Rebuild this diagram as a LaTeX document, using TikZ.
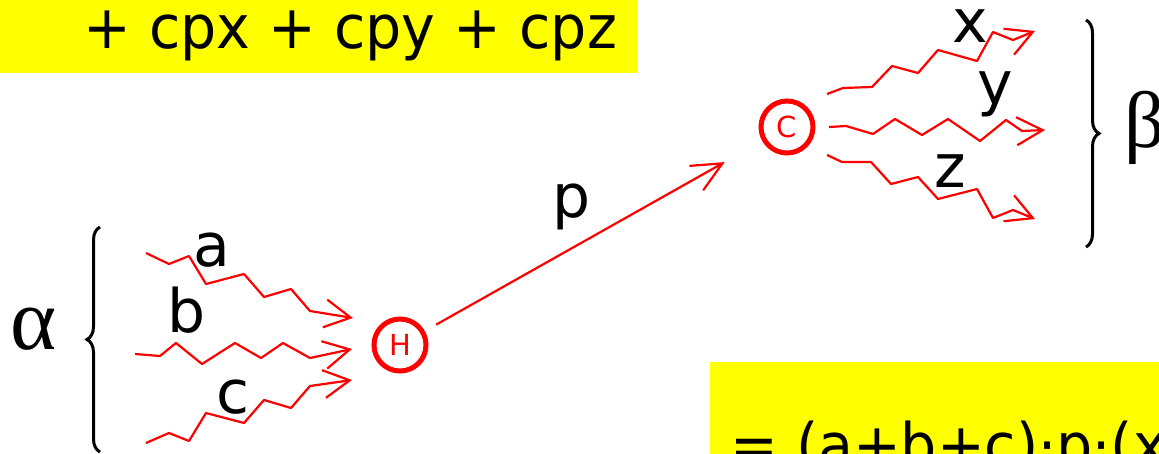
\documentclass[tikz,border=0pt]{standalone}
\usepackage{fontspec}
\setmainfont{DejaVu Sans}
\newfontfamily\greekfont{Liberation Serif}
\newfontfamily\sumfont[FakeStretch=0.95]{DejaVu Sans}
\usepackage{tikz}
\usetikzlibrary{arrows.meta, decorations.pathreplacing}
\definecolor{hilite}{RGB}{255,255,0}
\definecolor{wavered}{RGB}{255,0,0}

\tikzset{
  big/.style={font=\fontsize{60}{60}\selectfont, inner sep=0pt, anchor=base},
  sum/.style={font=\sumfont\fontsize{60}{60}\selectfont, inner sep=0pt, anchor=base west},
  atom/.style={circle, draw=wavered, line width=5pt, minimum size=52pt, inner sep=0pt,
    text=wavered, font=\fontsize{29}{29}\selectfont},
  wave/.style={wavered, line width=2.2pt, line join=round,
    -{Straight Barb[length=26pt,width=28pt]}},
  parrow/.style={wavered, line width=2.2pt, -{Straight Barb[length=30pt,width=28pt]}},
  curly/.style={decorate, decoration={brace, amplitude=13pt}, line width=3pt},
  greek/.style={inner sep=0pt, anchor=base west, font=\greekfont\fontsize{80}{80}\selectfont}
}

\begin{document}
\begin{tikzpicture}[x=1pt, y=-1pt]
  \useasboundingbox (0,0) rectangle (1159,454);
  \clip (0,0) rectangle (1159,454);

  % yellow boxes with the sums
  \fill[hilite] (0,0) rectangle (637,73);
  \fill[hilite] (710,362) rectangle (1159,470);
  \node[sum] (sumtop) at (83,49) {+ cpx + cpy + cpz};
  \node[sum] (sumbot) at (730,466) {= (a+b+c)·p·(x};

  % the two centres
  \node[atom] (H) at (400,345) {H};
  \node[atom] (C) at (787,127) {C};

  \draw[parrow, shorten <=13pt, shorten >=43pt] (H) -- (C);
  \node[big] (p) at (572,218) {p};

  % incoming
  \draw[wave] (146,253) -- (169,264) -- (189,256) -- (206,284) -- (244,274)
    -- (264,297) -- (291,289) -- (310,311) -- (353,318);
  \draw[wave] (135,354) -- (160,356) -- (176,343) -- (202,364) -- (235,343)
    -- (261,358) -- (283,343) -- (310,358) -- (352,349);
  \draw[wave] (146,443) -- (169,433) -- (189,441) -- (206,413) -- (244,423)
    -- (264,400) -- (291,408) -- (310,386) -- (352,380);

  % outgoing
  \draw[wave] (827,94) -- (843,88) -- (872,87) -- (892,66) -- (918,73)
    -- (938,50) -- (977,61) -- (993,32) -- (1013,40) -- (1035,31);
  \draw[wave] (829,127) -- (846,126) -- (873,134) -- (895,119) -- (922,135)
    -- (948,119) -- (980,141) -- (1006,120) -- (1022,131) -- (1045,130);
  \draw[wave] (827,155) -- (842,162) -- (871,162) -- (891,184) -- (918,177)
    -- (938,199) -- (977,189) -- (993,218) -- (1013,210) -- (1035,219);

  \foreach \x/\y/\name in {212/267/a, 187/332/b, 233/413/c, 970/43/x, 995/105/y, 950/188/z}{
    \node[big] (\name) at (\x,\y) {\name};
  }

  % braces
  \draw[curly] (100,452) -- (100,227);
  \draw[curly] (1086,20) -- (1086,247);
  \node[greek, font=\greekfont\fontsize{88}{88}\selectfont] (alpha) at (10,349) {α};
  \node[greek] (beta) at (1124,148) {β};
\end{tikzpicture}
\end{document}
